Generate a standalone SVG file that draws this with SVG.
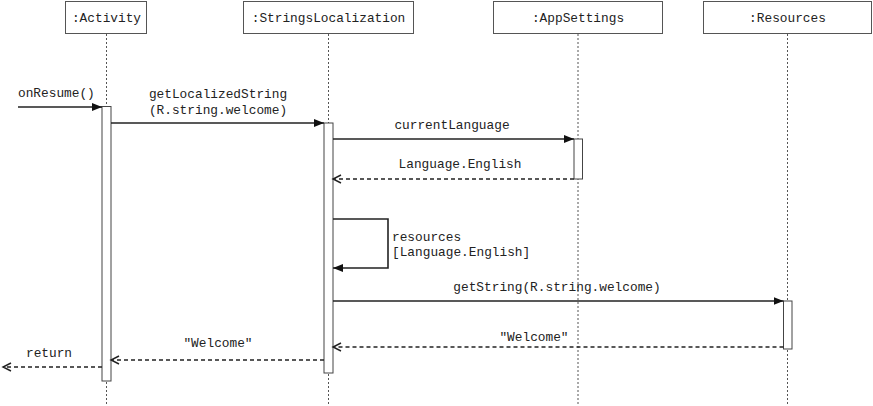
<svg xmlns="http://www.w3.org/2000/svg" width="873" height="406" viewBox="0 0 873 406">
<style>
.box{fill:#fff;stroke:#555;stroke-width:1}
.life{stroke:#555;stroke-width:1;stroke-dasharray:2,2;fill:none}
.bar{fill:#fff;stroke:#444;stroke-width:1}
.t{font-family:"Liberation Mono","Courier New",monospace;font-size:12.8px;fill:#222}
.c{text-anchor:middle}
.call{stroke:#222;stroke-width:1.6;fill:none;marker-end:url(#solid)}
.ret{stroke:#222;stroke-width:1.3;fill:none;stroke-dasharray:4,3;marker-end:url(#open)}
</style>
<defs>
<marker id="solid" markerUnits="userSpaceOnUse" markerWidth="11" markerHeight="9" refX="10" refY="4" orient="auto"><path d="M0,0 L10,4 L0,8 z" fill="#111"/></marker>
<marker id="open" markerUnits="userSpaceOnUse" markerWidth="11" markerHeight="10" refX="9" refY="4.5" orient="auto"><path d="M1,0.5 L9,4.5 L1,8.5" fill="none" stroke="#222" stroke-width="1.4"/></marker>
</defs>
<rect width="873" height="406" fill="#fff"/>
<g id="lifelines">
<line class="life" x1="106.5" y1="34" x2="106.5" y2="406"/>
<line class="life" x1="328.5" y1="34" x2="328.5" y2="406"/>
<line class="life" x1="578" y1="34" x2="578" y2="406"/>
<line class="life" x1="787.5" y1="34" x2="787.5" y2="406"/>
</g>
<g id="activity">
<rect class="box" x="65.5" y="1.5" width="81" height="32"/>
<text class="t c" x="106.5" y="22">:Activity</text>
<rect class="bar" x="102" y="106.5" width="9" height="274.5"/>
</g>
<g id="stringsLocalization">
<rect class="box" x="243.5" y="1.5" width="170" height="32"/>
<text class="t c" x="328.5" y="22">:StringsLocalization</text>
<rect class="bar" x="324" y="123" width="9" height="250"/>
</g>
<g id="appSettings">
<rect class="box" x="493.5" y="1.5" width="169" height="32"/>
<text class="t c" x="578" y="22">:AppSettings</text>
<rect class="bar" x="574" y="139" width="8.5" height="40"/>
</g>
<g id="resources">
<rect class="box" x="703.5" y="1.5" width="168" height="32"/>
<text class="t c" x="787.5" y="22">:Resources</text>
<rect class="bar" x="783.5" y="301" width="8.5" height="48"/>
</g>
<g id="connectors">
<line class="call" x1="18" y1="107" x2="102" y2="107"/>
<text class="t" x="18" y="97">onResume()</text>
<line class="call" x1="111" y1="123" x2="324" y2="123"/>
<text class="t c" x="218" y="98">getLocalizedString</text>
<text class="t c" x="218" y="114">(R.string.welcome)</text>
<line class="call" x1="333" y1="139" x2="574" y2="139"/>
<text class="t c" x="452" y="129">currentLanguage</text>
<line class="ret" x1="574" y1="179" x2="333" y2="179"/>
<text class="t c" x="460" y="168">Language.English</text>
<path class="call" d="M333,219 H388 V268 H333"/>
<text class="t" x="392" y="241">resources</text>
<text class="t" x="392" y="256">[Language.English]</text>
<line class="call" x1="333" y1="301" x2="783.5" y2="301"/>
<text class="t c" x="557" y="291">getString(R.string.welcome)</text>
<line class="ret" x1="783.5" y1="347" x2="333" y2="347"/>
<text class="t c" x="534" y="341">"Welcome"</text>
<line class="ret" x1="324" y1="360" x2="111" y2="360"/>
<text class="t c" x="218" y="347">"Welcome"</text>
<line class="ret" x1="102" y1="367" x2="3" y2="367"/>
<text class="t c" x="49" y="357">return</text>
</g>
</svg>
